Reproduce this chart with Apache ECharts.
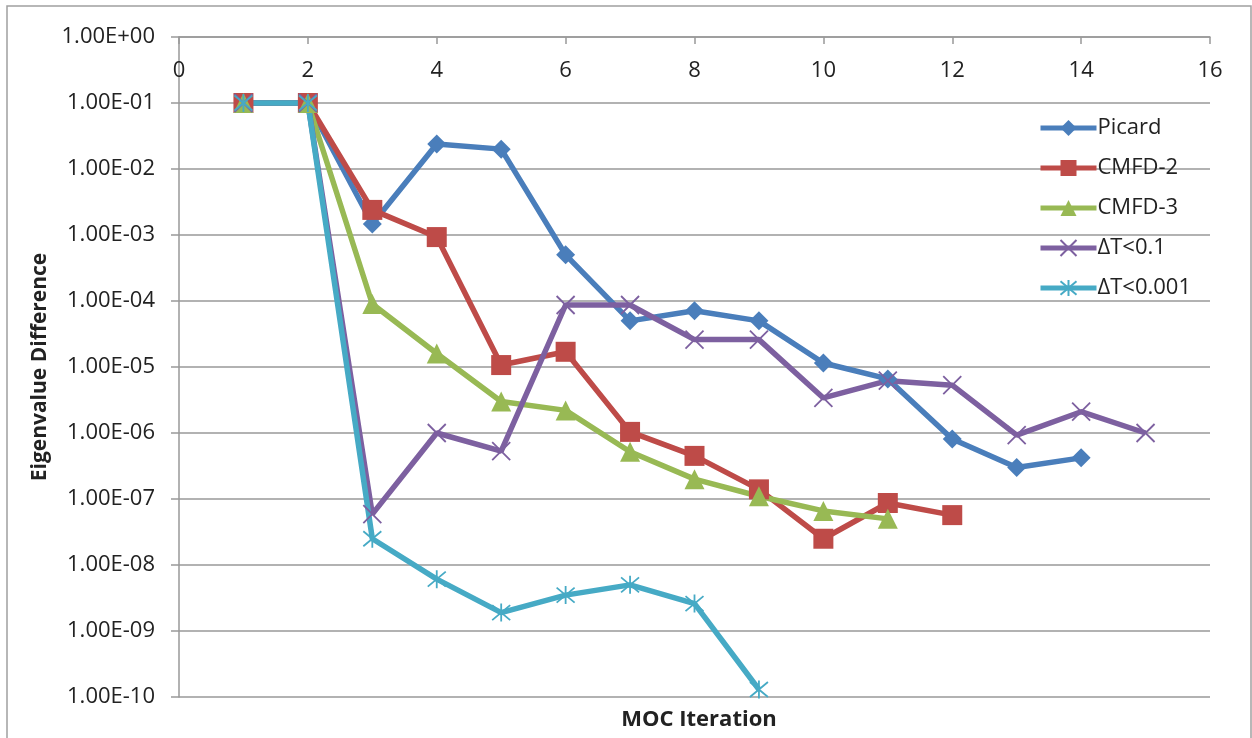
<!DOCTYPE html>
<html>
<head>
<meta charset="utf-8">
<script src="https://cdn.jsdelivr.net/npm/echarts@6/dist/echarts.min.js"></script>
<style>html,body{margin:0;padding:0;background:#fff}#c{width:1252px;height:738px}</style>
</head>
<body>
<div id="c"></div>
<script>
const iterations = [1, 2, 3, 4, 5, 6, 7, 8, 9, 10, 11, 12, 13, 14, 15];
const seriesNames = ['Picard', 'CMFD-2', 'CMFD-3', 'ΔT<0.1', 'ΔT<0.001'];
const picard = [0.1, 0.1, 1.47e-3, 0.024, 0.020, 5.0e-4, 5.0e-5, 7.1e-5, 5.0e-5, 1.15e-5, 6.6e-6, 8.1e-7, 3.0e-7, 4.2e-7];
const cmfd2 = [0.1, 0.1, 2.4e-3, 9.3e-4, 1.07e-5, 1.7e-5, 1.04e-6, 4.5e-7, 1.4e-7, 2.5e-8, 8.7e-8, 5.7e-8];
const cmfd3 = [0.1, 0.1, 9.0e-5, 1.6e-5, 3.0e-6, 2.2e-6, 5.2e-7, 2.0e-7, 1.1e-7, 6.6e-8, 5.0e-8];
const dt01 = [0.1, 0.1, 5.9e-8, 1.0e-6, 5.3e-7, 8.7e-5, 8.7e-5, 2.6e-5, 2.6e-5, 3.4e-6, 6.2e-6, 5.3e-6, 9.3e-7, 2.1e-6, 1.0e-6];
const dt0001 = [0.1, 0.1, 2.5e-8, 6.1e-9, 1.9e-9, 3.5e-9, 5.0e-9, 2.6e-9, 1.3e-10];
const xTickLabels = ['0', '2', '4', '6', '8', '10', '12', '14', '16'];
const yTickLabels = ['1.00E+00', '1.00E-01', '1.00E-02', '1.00E-03', '1.00E-04', '1.00E-05', '1.00E-06', '1.00E-07', '1.00E-08', '1.00E-09', '1.00E-10'];

const colors = ['#4A7EBB', '#BE4B48', '#98B954', '#7D60A0', '#46AAC5'];
const FONT = '"Open Sans", Lato, sans-serif';
const crossPath = 'path://M0 0L10 10M10 0L0 10';
const starPath = 'path://M0 0L10 10M10 0L0 10M5 -1L5 11';

function pairs(arr) { return arr.map((v, i) => [iterations[i], v]); }

const datasets = [picard, cmfd2, cmfd3, dt01, dt0001];
const symbols = ['diamond', 'rect', 'triangle', crossPath, starPath];
const symSizes = [19, 20, 20, 18, 18];

const series = datasets.map((d, i) => {
  const stroked = i >= 3;
  return {
    name: seriesNames[i],
    type: 'line',
    data: pairs(d),
    symbol: symbols[i],
    symbolSize: symSizes[i],
    showAllSymbol: true,
    lineStyle: { color: colors[i], width: 5.5 },
    itemStyle: stroked
      ? { color: colors[i], borderColor: colors[i], borderWidth: 1.8 }
      : { color: colors[i], borderWidth: 0 },
    emphasis: { disabled: true },
    animation: false
  };
});

const chart = echarts.init(document.getElementById('c'), null, { renderer: 'canvas' });
chart.setOption({
  animation: false,
  backgroundColor: '#fff',
  color: colors,
  textStyle: { fontFamily: FONT },
  grid: { left: 179, right: 42, top: 37, bottom: 41, containLabel: false },
  graphic: [{
    type: 'rect', shape: { x: 7, y: 6, width: 1244, height: 740 },
    style: { fill: 'none', stroke: '#a0a0a0', lineWidth: 1.5 }, z: -1
  }],
  title: [{
    text: 'MOC Iteration', left: 694, top: 704, textAlign: 'center',
    textStyle: { fontFamily: FONT, fontSize: 22, fontWeight: 'bold', color: '#222' }
  }],
  legend: {
    orient: 'vertical', left: 1038, top: 117, padding: 0,
    itemWidth: 56, itemHeight: 20, itemGap: 18,
    lineStyle: { width: 5 },
    textStyle: { fontFamily: FONT, fontSize: 22, color: '#222', padding: [0, 0, 0, -4] },
    data: seriesNames
  },
  xAxis: {
    type: 'value', position: 'top', min: 0, max: 16, interval: 2,
    axisLine: { show: true, lineStyle: { color: '#999', width: 1.5 } },
    axisTick: { show: true, inside: true, length: 7, lineStyle: { color: '#999', width: 1.5 } },
    axisLabel: {
      inside: true, margin: 23, fontSize: 22, color: '#222', fontFamily: FONT,
      formatter: v => xTickLabels[Math.round(v / 2)]
    },
    splitLine: { show: false }
  },
  yAxis: {
    type: 'log', logBase: 10, min: 1e-10, max: 1, interval: 1, splitNumber: 10,
    name: 'Eigenvalue Difference', nameLocation: 'middle', nameRotate: 90, nameGap: 125,
    nameTextStyle: { fontFamily: FONT, fontSize: 21, fontWeight: 'bold', color: '#222' },
    axisLine: { show: true, lineStyle: { color: '#999', width: 1.5 } },
    axisTick: { show: true, length: 8, lineStyle: { color: '#999', width: 1.5 } },
    axisLabel: {
      margin: 24, fontSize: 22, color: '#222', fontFamily: FONT,
      formatter: v => yTickLabels[Math.round(-Math.log10(v))]
    },
    splitLine: { show: true, lineStyle: { color: '#999', width: 1.5 } }
  },
  series: series
});
</script>
</body>
</html>
